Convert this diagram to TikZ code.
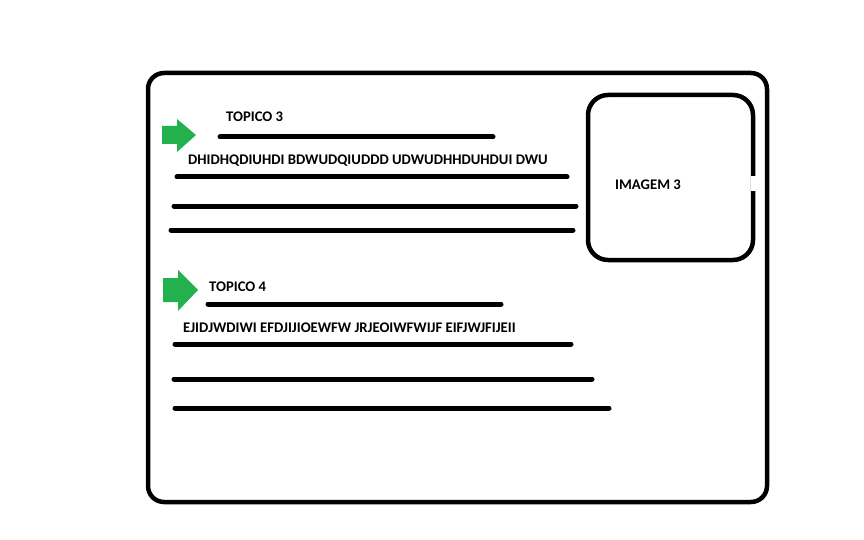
\documentclass[tikz,border=0pt]{standalone}
\usepackage{fontspec}
\setmainfont{Carlito}
\definecolor{pgreen}{RGB}{34,177,76}
\tikzset{
  frame/.style={draw=black, line width=4.5pt, rounded corners=16pt},
  rule/.style={draw=black, line width=5pt, line cap=round, shorten <=2pt, shorten >=2pt},
  lbl/.style={inner sep=0pt, font=\bfseries\fontsize{14.7}{17}\selectfont, anchor=west},
  garrow/.style={fill=pgreen, draw=none}
}
\begin{document}
\begin{tikzpicture}[x=1pt,y=-1pt]
\useasboundingbox (0,0) rectangle (864,540);
% outer frame
\draw[frame] (148,73) rectangle (767,502);
% image box
\draw[frame, rounded corners=20pt] (588,95) rectangle (753,260);
\fill[white] (751,176) rectangle (757,191);
\node[lbl] (img) at (615,185) {IMAGEM 3};
% section 1
\fill[garrow] (162,126) -- (177,126) -- (177,119) -- (196,135) -- (177,152) -- (177,144) -- (162,144) -- cycle;
\node[lbl] (t3) at (226,117) {TOPICO 3};
\coordinate (a1) at (218,137); \coordinate (b1) at (495,137);
\draw[rule] (a1) -- (b1);
\node[lbl] (p3) at (188,161) {DHIDHQDIUHDI BDWUDQIUDDD UDWUDHHDUHDUI DWU};
\coordinate (a2) at (175,177); \coordinate (b2) at (569,177);
\draw[rule] (a2) -- (b2);
\coordinate (a3) at (172,206); \coordinate (b3) at (578,206);
\draw[rule] (a3) -- (b3);
\coordinate (a4) at (169,230); \coordinate (b4) at (575,230);
\draw[rule] (a4) -- (b4);
% section 2
\fill[garrow] (163,278) -- (178,278) -- (178,270) -- (198,290) -- (178,311) -- (178,302) -- (163,302) -- cycle;
\node[lbl] (t4) at (209,287) {TOPICO 4};
\coordinate (c1) at (206,304); \coordinate (d1) at (503,304);
\draw[rule] (c1) -- (d1);
\node[lbl] (p4) at (183,328) {EJIDJWDIWI EFDJIJIOEWFW JRJEOIWFWIJF EIFJWJFIJEII};
\coordinate (c2) at (173,344); \coordinate (d2) at (573,344);
\draw[rule] (c2) -- (d2);
\coordinate (c3) at (172,379); \coordinate (d3) at (594,379);
\draw[rule] (c3) -- (d3);
\coordinate (c4) at (173,408); \coordinate (d4) at (611,408);
\draw[rule] (c4) -- (d4);
\end{tikzpicture}
\end{document}
